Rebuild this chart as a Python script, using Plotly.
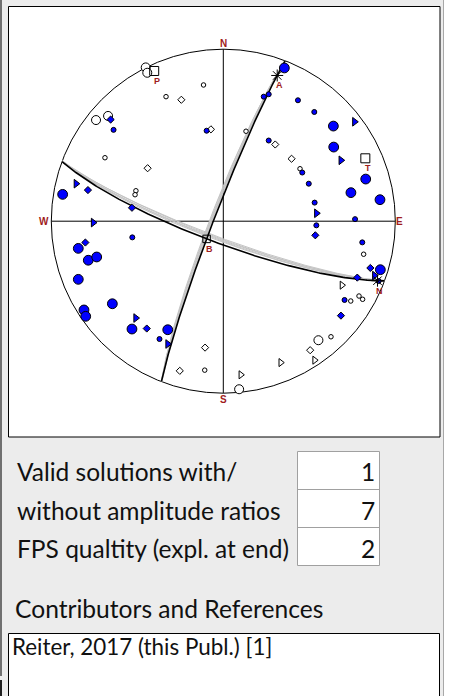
import numpy as np
import plotly.graph_objects as go

# ---------------- focal mechanism data (lower hemisphere, equal-area) ----------------
# nodal planes: dip direction (deg), dip (deg)
plane_dipdir = [291.1, 200.3]
plane_dip = [85.6, 79.4]
# alternative (accepted) solutions drawn as thin grey great circles
alt1_dipdir = [291.1, 291.0, 291.2, 291.1, 290.9]
alt1_dip = [83.8, 84.1, 84.4, 84.7, 85.0]
alt2_dipdir = [200.3, 200.5, 200.2, 200.6, 200.4]
alt2_dip = [80.6, 81.0, 81.4, 81.8, 82.2]

# polarity observations, projected east / north coordinates on the unit net
comp_big_e = [0.355, 0.640, 0.642, 0.828, 0.742, 0.911, 0.913, -0.934, -0.843, -0.785,
              -0.736, -0.843, -0.645, -0.810, -0.800, -0.531, -0.323]
comp_big_n = [0.891, 0.553, 0.431, 0.245, 0.166, 0.125, -0.282, 0.156, -0.158, -0.227,
              -0.208, -0.338, -0.480, -0.516, -0.553, -0.627, -0.631]
comp_small_e = [-0.638, -0.097, 0.235, 0.264, 0.434, 0.529, 0.264, 0.459, 0.497, 0.531,
                0.766, 0.541, 0.808, 0.705, -0.371, -0.529, 0.903]
comp_small_n = [0.531, 0.526, 0.724, 0.738, 0.703, 0.635, 0.469, 0.283, 0.218, 0.108,
                0.012, -0.024, -0.123, -0.458, -0.685, -0.094, -0.348]
comp_dia_e = [-0.655, -0.787, -0.531, -0.802, -0.445, 0.535, 0.855, 0.779, 0.684]
comp_dia_n = [0.591, 0.181, 0.078, -0.124, -0.624, -0.082, -0.272, -0.328, -0.549]
comp_tri_e = [-0.856, -0.756, 0.763, 0.684, 0.542, 0.879, -0.509, -0.323]
comp_tri_n = [0.218, -0.008, 0.578, 0.354, 0.046, -0.316, -0.563, -0.714]

dil_big_e = [-0.451, -0.442, -0.740, -0.670, 0.553, 0.092]
dil_big_n = [0.894, 0.863, 0.588, 0.612, -0.692, -0.977]
dil_small_e = [-0.115, -0.333, -0.688, -0.508, -0.513, 0.132, 0.446, 0.816, 0.741, 0.789,
               0.810, 0.626, -0.108]
dil_small_n = [0.792, 0.724, 0.369, 0.177, 0.154, 0.523, 0.305, -0.192, -0.464, -0.435,
               -0.454, -0.672, -0.866]
dil_dia_e = [-0.244, -0.072, -0.440, 0.302, 0.397, 0.505, -0.106, -0.253]
dil_dia_n = [0.706, 0.534, 0.308, 0.446, 0.363, -0.750, -0.735, -0.870]
dil_tri_e = [0.690, 0.531, 0.334, 0.102]
dil_tri_n = [-0.372, -0.808, -0.822, -0.893]

# panel texts
row_labels = ["Valid solutions with/", "without amplitude ratios", "FPS qualtity (expl. at end)"]
row_values = ["1", "7", "2"]
ref_title = "Contributors and References"
ref_text = "Reiter, 2017 (this Publ.) [1]"

# ---------------- geometry helpers ----------------
W, H = 457, 696
CX, CY, RPX = 223.3, 221.2, 172.0     # net centre and radius on the page


def px(x):
    return x / W


def py(y):
    return 1 - y / H


def vec_to_net(v):
    v = np.asarray(v, dtype=float)
    v = v / np.linalg.norm(v, axis=0)
    flip = v[2] < 0
    v = np.where(flip, -v, v)
    r = np.sqrt(np.clip(1 - v[2], 0, None))
    h = np.hypot(v[0], v[1])
    h = np.where(h == 0, 1, h)
    return r * v[1] / h, r * v[0] / h


def great_circle(dipdir, dip, n=200):
    dd, dp = np.radians(dipdir), np.radians(dip)
    st = dd - np.pi / 2
    s = np.array([np.cos(st), np.sin(st), 0.0])
    d = np.array([np.cos(dp) * np.cos(dd), np.cos(dp) * np.sin(dd), np.sin(dp)])
    t = np.linspace(0, np.pi, n)
    v = np.outer(s, np.cos(t)) + np.outer(d, np.sin(t))
    return vec_to_net(v)


def pole(dipdir, dip):
    dd, dp = np.radians(dipdir), np.radians(dip)
    return np.array([-np.sin(dp) * np.cos(dd), -np.sin(dp) * np.sin(dd), np.cos(dp)])


n1 = pole(plane_dipdir[0], plane_dip[0])
n2 = pole(plane_dipdir[1], plane_dip[1])
axes = {
    "P": vec_to_net((n1 - n2)[:, None]),
    "T": vec_to_net((n1 + n2)[:, None]),
    "B": vec_to_net(np.cross(n1, n2)[:, None]),
    "A": vec_to_net(n2[:, None]),
    "N": vec_to_net(n1[:, None]),
}

fig = go.Figure()

# grey alternative planes
for dds, dps in ((alt1_dipdir, alt1_dip), (alt2_dipdir, alt2_dip)):
    for dd, dp in zip(dds, dps):
        x, y = great_circle(dd, dp)
        fig.add_trace(go.Scatter(x=x, y=y, mode="lines",
                                 line=dict(color="#c4c4c4", width=1), hoverinfo="skip"))
# best nodal planes
for dd, dp in zip(plane_dipdir, plane_dip):
    x, y = great_circle(dd, dp)
    fig.add_trace(go.Scatter(x=x, y=y, mode="lines",
                             line=dict(color="black", width=1.6), hoverinfo="skip"))

BLUE = "#0000ff"
edge = dict(color="black", width=1)


def add_pts(xs, ys, symbol, size, fill):
    fig.add_trace(go.Scatter(x=xs, y=ys, mode="markers",
                             marker=dict(symbol=symbol, size=size, color=fill, line=edge)))


add_pts(dil_big_e, dil_big_n, "circle", 9, "white")
add_pts(dil_small_e, dil_small_n, "circle", 4.5, "white")
add_pts(dil_dia_e, dil_dia_n, "diamond", 5.5, "white")
add_pts(dil_tri_e, dil_tri_n, "triangle-right", 7, "white")
add_pts(comp_big_e, comp_big_n, "circle", 9.8, BLUE)
add_pts(comp_small_e, comp_small_n, "circle", 5, BLUE)
add_pts(comp_dia_e, comp_dia_n, "diamond", 5.5, BLUE)
add_pts(comp_tri_e, comp_tri_n, "triangle-right", 7.5, BLUE)

# P, T, B axes and slip / normal vectors
for k, size in (("P", 9), ("T", 9), ("B", 7.5)):
    x, y = axes[k]
    fig.add_trace(go.Scatter(x=x, y=y, mode="markers",
                             marker=dict(symbol="square-open", size=size, color="black",
                                         line=dict(width=1))))
for k in ("A", "N"):
    x, y = axes[k]
    fig.add_trace(go.Scatter(x=x, y=y, mode="markers",
                             marker=dict(symbol="asterisk-open", size=10, color="black",
                                         line=dict(color="black", width=1))))

RED = "#a01c1c"
ann = []
for k in ("P", "T", "B", "A", "N"):
    x, y = axes[k]
    ann.append(dict(x=float(x[0]), y=float(y[0]), xref="x", yref="y", text=k, showarrow=False,
                    xshift=2.5, yshift=-10, font=dict(family="Liberation Sans", size=9,
                                                      color=RED, weight="bold")))
for t, x, y in (("N", 0, 1.034), ("S", 0, -1.036), ("W", -1.045, 0), ("E", 1.027, 0)):
    ann.append(dict(x=x, y=y, xref="x", yref="y", text=t, showarrow=False,
                    font=dict(family="Liberation Sans", size=10, color=RED, weight="bold")))

# ---------------- page furniture ----------------
shapes = [
    dict(type="rect", xref="paper", yref="paper", x0=px(444), x1=1, y0=0, y1=1,
         fillcolor="white", line=dict(width=0), layer="below"),
    dict(type="line", xref="paper", yref="paper", x0=px(443.5), x1=px(443.5), y0=0, y1=1,
         line=dict(color="#a8a8a8", width=1), layer="below"),
    dict(type="line", xref="paper", yref="paper", x0=px(1), x1=px(1), y0=py(0), y1=py(676),
         line=dict(color="#707070", width=2), layer="below"),
    dict(type="line", xref="paper", yref="paper", x0=px(1), x1=px(1), y0=py(680), y1=py(696),
         line=dict(color="#202020", width=2), layer="below"),
    dict(type="rect", xref="paper", yref="paper", x0=px(8.5), x1=px(440), y0=py(6.5), y1=py(437),
         fillcolor="white", line=dict(color="black", width=1), layer="below"),
    # results boxes
    dict(type="rect", xref="paper", yref="paper", x0=px(297.5), x1=px(379.5), y0=py(451.5),
         y1=py(565.5), fillcolor="white", line=dict(color="#a0a0a0", width=1), layer="below"),
    dict(type="line", xref="paper", yref="paper", x0=px(297.5), x1=px(379.5), y0=py(489.5),
         y1=py(489.5), line=dict(color="#a0a0a0", width=1), layer="below"),
    dict(type="line", xref="paper", yref="paper", x0=px(297.5), x1=px(379.5), y0=py(527.5),
         y1=py(527.5), line=dict(color="#a0a0a0", width=1), layer="below"),
    # references box
    dict(type="rect", xref="paper", yref="paper", x0=px(8.5), x1=px(439.5), y0=py(633.5),
         y1=py(700), fillcolor="white", line=dict(color="black", width=1), layer="below"),
    # net outline and cross
    dict(type="circle", xref="x", yref="y", x0=-1, x1=1, y0=-1, y1=1,
         line=dict(color="black", width=1), layer="below"),
    dict(type="line", xref="x", yref="y", x0=-1, x1=1, y0=0, y1=0,
         line=dict(color="black", width=1), layer="below"),
    dict(type="line", xref="x", yref="y", x0=0, x1=0, y0=-1, y1=1,
         line=dict(color="black", width=1), layer="below"),
]

UI_FONT = "Lato"
row_mid = [472, 510, 548]
for lab, val, ym in zip(row_labels, row_values, row_mid):
    ann.append(dict(x=px(15), y=py(ym), xref="paper", yref="paper", text=lab,
                    showarrow=False, xanchor="left", yanchor="middle",
                    font=dict(family=UI_FONT, size=24.5, color="#111111")))
    ann.append(dict(x=px(377), y=py(ym), xref="paper", yref="paper", text=val,
                    showarrow=False, xanchor="right", yanchor="middle",
                    font=dict(family=UI_FONT, size=24.5, color="#111111")))
ann.append(dict(x=px(13), y=py(608), xref="paper", yref="paper", text=ref_title,
                showarrow=False, xanchor="left", yanchor="middle",
                font=dict(family=UI_FONT, size=24.6, color="#111111")))
ann.append(dict(x=px(10), y=py(646), xref="paper", yref="paper", text=ref_text,
                showarrow=False, xanchor="left", yanchor="middle",
                font=dict(family=UI_FONT, size=22.4, color="#111111")))

fig.update_layout(
    width=W, height=H, margin=dict(l=0, r=0, t=0, b=0),
    paper_bgcolor="#ececec", plot_bgcolor="rgba(0,0,0,0)",
    showlegend=False, shapes=shapes, annotations=ann,
    xaxis=dict(range=[-CX / RPX, (W - CX) / RPX], domain=[0, 1], visible=False, fixedrange=True),
    yaxis=dict(range=[(CY - H) / RPX, CY / RPX], domain=[0, 1], visible=False, fixedrange=True),
)

fig.write_html("out.html")
